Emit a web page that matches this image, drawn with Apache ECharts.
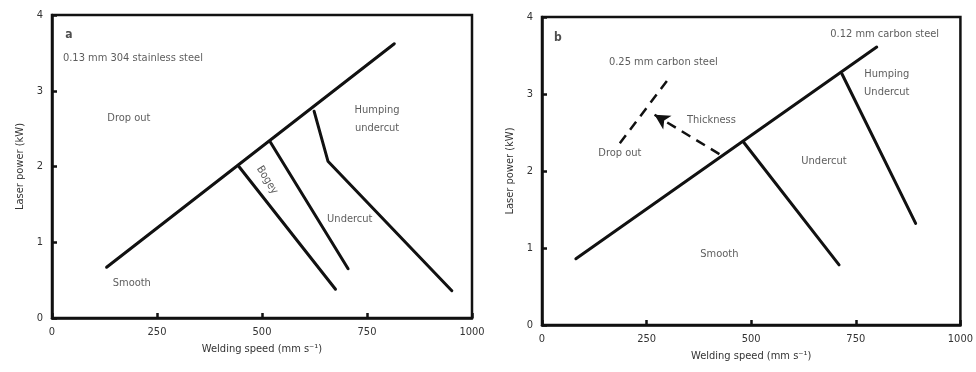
<!DOCTYPE html>
<html>
<head>
<meta charset="utf-8">
<script src="https://cdn.jsdelivr.net/npm/echarts@6/dist/echarts.min.js"></script>
<style>
  html, body { margin: 0; padding: 0; background: #fff; }
  #chart { width: 976px; height: 372px; }
</style>
</head>
<body>
<div id="chart"></div>
<script>
// Process maps: laser power vs welding speed, with weld-quality regions.
const speedTicks = [0, 250, 500, 750, 1000];
const powerTicks = [0, 1, 2, 3, 4];

// (a) 0.13 mm 304 stainless steel
const aDropOutBoundary = [[130, 0.67], [815, 3.62]];
const aSmoothBogey = [[445, 2.0], [675, 0.38]];
const aBogeyUndercut = [[519, 2.33], [705, 0.65]];
const aUndercutHumping = [[624, 2.73], [657, 2.07], [952, 0.36]];

// (b) carbon steel
const bDropOutBoundary = [[81, 0.86], [800, 3.61]];
const bSmoothUndercut = [[481, 2.38], [710, 0.78]];
const bUndercutHumping = [[717, 3.26], [893, 1.32]];
const bThickSheetBoundary = [[186, 2.36], [307, 3.23]];
const bThicknessArrow = [[424, 2.22], [269, 2.73]];

// Region names anchored in data units: [text, speed, power]
const aRegionLabels = [
  ['Drop out', 183, 2.64],
  ['Humping\nundercut', 774, 2.63],
  ['Undercut', 709, 1.31],
  ['Smooth', 190, 0.46]
];
const aBogeyLabel = ['Bogey', 512, 1.82];
const aTitleLabels = [['a', 40, 3.74], ['0.13 mm 304 stainless steel', 26, 3.43]];

const bRegionLabels = [
  ['0.12 mm carbon steel', 819, 3.78],
  ['0.25 mm carbon steel', 290, 3.42],
  ['Humping\nUndercut', 824, 3.14],
  ['Thickness', 405, 2.66],
  ['Drop out', 186, 2.23],
  ['Undercut', 674, 2.13],
  ['Smooth', 424, 0.92]
];
const bTitleLabels = [['b', 38, 3.73]];

const FONT = '"Liberation Sans Narrow", "DejaVu Sans Condensed", "Noto Sans", sans-serif';
const INK = '#111';
const TEXT = '#333';

function makeX(gridIndex) {
  return {
    type: 'value', gridIndex, min: speedTicks[0], max: speedTicks[speedTicks.length - 1], interval: 250,
    name: 'Welding speed (mm s\u207B\u00B9)', nameLocation: 'middle', nameGap: 26,
    nameTextStyle: { fontFamily: FONT, fontSize: 11, color: TEXT },
    axisLine: { show: true, lineStyle: { color: INK, width: 2.5 } },
    axisTick: { show: true, inside: true, length: 5, lineStyle: { color: INK, width: 2.5 },
      interval: (i, v) => v > speedTicks[0] && v < speedTicks[speedTicks.length - 1] },
    axisLabel: { fontFamily: FONT, fontSize: 11, color: TEXT, margin: 9,
      formatter: v => speedTicks.includes(v) ? String(v) : '' },
    splitLine: { show: false }
  };
}
function makeY(gridIndex) {
  return {
    type: 'value', gridIndex, min: powerTicks[0], max: powerTicks[powerTicks.length - 1], interval: 1,
    name: 'Laser power (kW)', nameLocation: 'middle', nameGap: 26,
    nameTextStyle: { fontFamily: FONT, fontSize: 11, color: TEXT },
    axisLine: { show: true, lineStyle: { color: INK, width: 2.5 } },
    axisTick: { show: true, inside: true, length: 5, lineStyle: { color: INK, width: 2.5 } },
    axisLabel: { fontFamily: FONT, fontSize: 11, color: TEXT, margin: 9,
      formatter: v => powerTicks.includes(v) ? String(v) : '' },
    splitLine: { show: false }
  };
}

function boundary(data, idx, extra) {
  return Object.assign({
    type: 'line', xAxisIndex: idx, yAxisIndex: idx, data, symbol: 'none', silent: true,
    lineStyle: { color: INK, width: 3, cap: 'round', join: 'round' }, z: 3
  }, extra || {});
}

function textLayer(labels, idx, style) {
  return {
    type: 'scatter', xAxisIndex: idx, yAxisIndex: idx, symbolSize: 0, silent: true, z: 5,
    data: labels.map(l => ({ value: [l[1], l[2]], name: l[0] })),
    label: Object.assign({
      show: true, position: 'inside', formatter: p => p.name,
      fontFamily: FONT, fontSize: 11, color: TEXT, lineHeight: 18
    }, style || {})
  };
}

const option = {
  backgroundColor: '#fff',
  animation: false,
  grid: [
    { left: 52, top: 15, width: 420, height: 303, show: true, borderColor: INK, borderWidth: 2.5, backgroundColor: 'transparent' },
    { left: 542, top: 17, width: 420, height: 308, show: true, borderColor: INK, borderWidth: 2.5, backgroundColor: 'transparent' }
  ],
  xAxis: [makeX(0), makeX(1)],
  yAxis: [makeY(0), makeY(1)],
  series: [
    boundary(aDropOutBoundary, 0),
    boundary(aSmoothBogey, 0),
    boundary(aBogeyUndercut, 0),
    boundary(aUndercutHumping, 0),
    textLayer(aRegionLabels, 0),
    textLayer([aBogeyLabel], 0, { rotate: -58 }),
    textLayer(aTitleLabels.slice(0, 1), 0, { fontWeight: 'bold', fontSize: 12, color: '#222' }),
    textLayer(aTitleLabels.slice(1), 0, { position: 'right', distance: 0 }),

    boundary(bDropOutBoundary, 1),
    boundary(bSmoothUndercut, 1),
    boundary(bUndercutHumping, 1),
    boundary(bThickSheetBoundary, 1, { lineStyle: { color: INK, width: 2.5, type: [10, 7] } }),
    {
      type: 'line', xAxisIndex: 1, yAxisIndex: 1, data: [], silent: true,
      markLine: {
        silent: true, symbol: ['none', 'arrow'], symbolSize: [12, 15], label: { show: false },
        lineStyle: { color: INK, width: 2.5, type: [10, 7] },
        data: [[{ coord: bThicknessArrow[0] }, { coord: bThicknessArrow[1] }]]
      }
    },
    textLayer(bRegionLabels, 1),
    textLayer(bTitleLabels, 1, { fontWeight: 'bold', fontSize: 12, color: '#222' })
  ]
};

const chart = echarts.init(document.getElementById('chart'), null, { renderer: 'canvas' });
chart.setOption(option);
</script>
</body>
</html>
